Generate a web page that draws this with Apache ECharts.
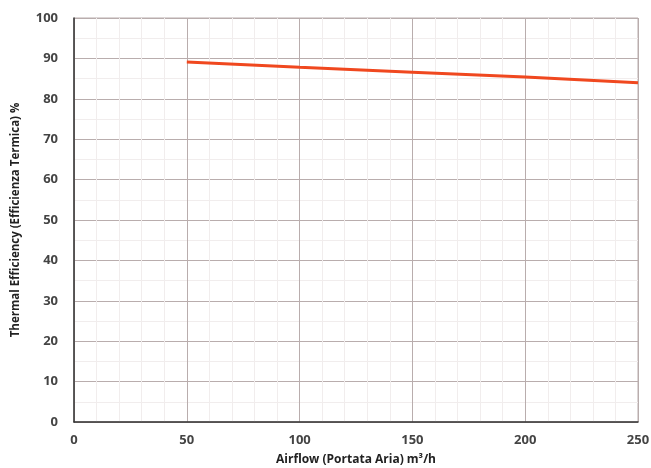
<!DOCTYPE html>
<html>
<head>
<meta charset="utf-8">
<script src="https://cdn.jsdelivr.net/npm/echarts@6/dist/echarts.min.js"></script>
<style>
html,body{margin:0;padding:0;background:#fff;}
#chart{width:651px;height:468px;}
</style>
</head>
<body>
<div id="chart"></div>
<script>
var airflow = [50, 100, 150, 200, 250];
var efficiency = [89.1, 87.8, 86.6, 85.4, 84.0];
var xTitle = 'Airflow (Portata Aria) m³/h';
var yTitle = 'Thermal Efficiency (Efficienza Termica) %';

var chart = echarts.init(document.getElementById('chart'));
var font = 'Open Sans';
chart.setOption({
  animation: false,
  backgroundColor: '#fff',
  grid: {left: 74, right: 13, top: 18, bottom: 46, containLabel: false,
         outerBoundsMode: 'none',
         show: true, borderColor: '#b9adad', borderWidth: 1},
  xAxis: {
    type: 'value', min: 0, max: 250, interval: 50,
    name: xTitle, nameLocation: 'middle', nameGap: 32,
    nameTextStyle: {fontFamily: font, fontWeight: 'bold', fontSize: 12, color: '#222'},
    axisLine: {show: true, lineStyle: {color: '#333', width: 1.5}},
    axisTick: {show: false},
    axisLabel: {fontFamily: font, fontWeight: 'bold', fontSize: 13, color: '#444', margin: 12},
    splitLine: {show: true, lineStyle: {color: '#b9adad', width: 1}},
    minorTick: {show: false, splitNumber: 5},
    minorSplitLine: {show: true, lineStyle: {color: '#f1eded', width: 1}}
  },
  yAxis: {
    type: 'value', min: 0, max: 100, interval: 10,
    name: yTitle, nameLocation: 'middle', nameGap: 52,
    nameTextStyle: {fontFamily: font, fontWeight: 'bold', fontSize: 11.5, color: '#222'},
    axisLine: {show: true, lineStyle: {color: '#333', width: 1.5}},
    axisTick: {show: false},
    axisLabel: {fontFamily: font, fontWeight: 'bold', fontSize: 13, color: '#444', margin: 16},
    splitLine: {show: true, lineStyle: {color: '#b9adad', width: 1}},
    minorTick: {show: false, splitNumber: 2},
    minorSplitLine: {show: true, lineStyle: {color: '#f1eded', width: 1}}
  },
  series: [{
    type: 'line',
    data: airflow.map(function(x, i){ return [x, efficiency[i]]; }),
    showSymbol: false,
    lineStyle: {color: '#f0481f', width: 3},
    itemStyle: {color: '#f0481f'}
  }]
});
</script>
</body>
</html>
